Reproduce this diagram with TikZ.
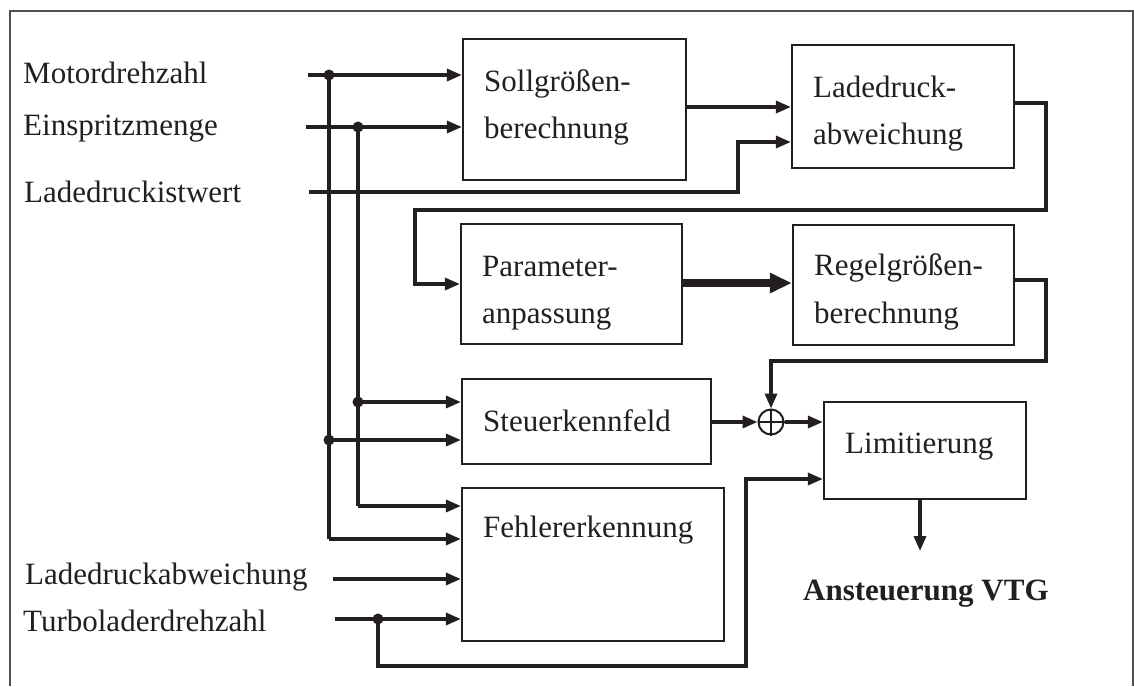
\documentclass[tikz,border=0pt]{standalone}
\usepackage{fontspec}
\setmainfont{Liberation Serif}
\usetikzlibrary{arrows.meta}
\definecolor{ink}{HTML}{231F20}
\definecolor{framegray}{HTML}{505050}
\begin{document}
\begin{tikzpicture}[x=1pt,y=-1pt,
  blk/.style={draw=ink, line width=2.2pt, inner sep=0pt, rectangle},
  lbl/.style={font=\fontsize{31}{37}\selectfont, text=ink, inner sep=0pt, anchor=base west},
  wire/.style={draw=ink, line width=3.3pt},
  arr/.style={wire, -{Triangle[length=15pt,width=12pt]}},
  fatarr/.style={draw=ink, line width=7.5pt, -{Triangle[length=22pt,width=19pt]}},
  dot/.style={circle, fill=ink, inner sep=0pt, minimum size=11pt}]
\useasboundingbox (0,0) rectangle (1134,686);

% outer frame (open at the bottom)
\draw[framegray, line width=1.6pt] (10,686) -- (10,11) -- (1133,11) -- (1133,686);

% blocks
\node[blk, minimum width=223pt, minimum height=141pt] (soll)   at (574.5,109.5) {};
\node[blk, minimum width=222pt, minimum height=123pt] (lade)   at (903,106.5) {};
\node[blk, minimum width=221pt, minimum height=120pt] (param)  at (571.5,284) {};
\node[blk, minimum width=221pt, minimum height=120pt] (regel)  at (903.5,285) {};
\node[blk, minimum width=249pt, minimum height=85pt]  (steuer) at (586.5,421.5) {};
\node[blk, minimum width=202pt, minimum height=97pt]  (limit)  at (925,450.5) {};
\node[blk, minimum width=262pt, minimum height=153pt] (fehler) at (593,564.5) {};
\node[circle, draw=ink, line width=2pt, minimum size=25pt, inner sep=0pt] (sum) at (771,422) {};
\draw[ink, line width=1.6pt] (sum.north) -- (sum.south) (sum.west) -- (sum.east);

% block texts
\node[lbl] (tsoll1) at (484,91)  {Sollgrößen-};
\node[lbl] (tsoll2) at (484,138) {berechnung};
\node[lbl] (tlade1) at (813,97)  {Ladedruck-};
\node[lbl] (tlade2) at (813,144) {abweichung};
\node[lbl] (tpar1)  at (482,276) {Parameter-};
\node[lbl] (tpar2)  at (482,323) {anpassung};
\node[lbl] (treg1)  at (814,275) {Regelgrößen-};
\node[lbl] (treg2)  at (814,323) {berechnung};
\node[lbl] (tsteu)  at (483,431) {Steuerkennfeld};
\node[lbl] (tlim)   at (845,453) {Limitierung};
\node[lbl] (tfehl)  at (483,537) {Fehlererkennung};

% input signal names
\node[lbl] (lmot)  at (23,83)  {Motordrehzahl};
\node[lbl] (lein)  at (23,135) {Einspritzmenge};
\node[lbl] (list)  at (24,202) {Ladedruckistwert};
\node[lbl] (labw)  at (25,584) {Ladedruckabweichung};
\node[lbl] (lturb) at (23,631) {Turboladerdrehzahl};
\node[lbl, font=\fontsize{31}{37}\selectfont\bfseries] (lvtg) at (803,600) {Ansteuerung VTG};

% signal entry points and branch points
\coordinate (imot)  at (308,75);
\coordinate (iein)  at (306,127);
\coordinate (iist)  at (309,192);
\coordinate (iabw)  at (333,579);
\coordinate (iturb) at (335,619);
\coordinate (out)   at (920,551);
\node[dot] (jmot)  at (329,75)  {};
\node[dot] (jein)  at (358,127) {};
\node[dot] (jein2) at (358,402) {};
\node[dot] (jmot2) at (329,440) {};
\node[dot] (jturb) at (378,619) {};

% inputs to the set-point calculation
\draw[arr] (imot) -- (imot -| soll.west);
\draw[arr] (iein) -- (iein -| soll.west);
% distribution buses
\draw[wire] (jmot.center) -- (329,539);
\draw[wire] (jein.center) -- (358,506);
\draw[arr] (jein2.center) -- (jein2 -| steuer.west);
\draw[arr] (jmot2.center) -- (jmot2 -| steuer.west);
\draw[arr] (358,506) -- (fehler.west |- 0,506);
\draw[arr] (329,539) -- (fehler.west |- 0,539);
\draw[arr] (iabw) -- (iabw -| fehler.west);
\draw[arr] (iturb) -- (iturb -| fehler.west);

% boost pressure path
\draw[arr] (soll.east |- 0,107) -- (lade.west |- 0,107);
\draw[arr] (iist) -- (738,192) -- (738,142) -- (lade.west |- 0,142);
\draw[arr] (lade.east |- 0,103) -- (1046,103) -- (1046,210) -- (415,210) -- (415,284) -- (param.west |- 0,284);
\draw[fatarr] (param.east |- 0,283) -- (regel.west |- 0,283);
\draw[arr] (regel.east |- 0,280) -- (1046,280) -- (1046,361) -- (sum.north |- 0,361) -- (sum.north);

% feed-forward, sum and limitation
\draw[arr] (steuer.east |- sum) -- (sum.west);
\draw[arr] (sum.east) -- (sum.east -| limit.west);
\draw[arr] (jturb.center) -- (378,666) -- (746,666) -- (746,479) -- (limit.west |- 0,479);
\draw[arr] (limit.south -| out) -- (out);
\end{tikzpicture}
\end{document}
